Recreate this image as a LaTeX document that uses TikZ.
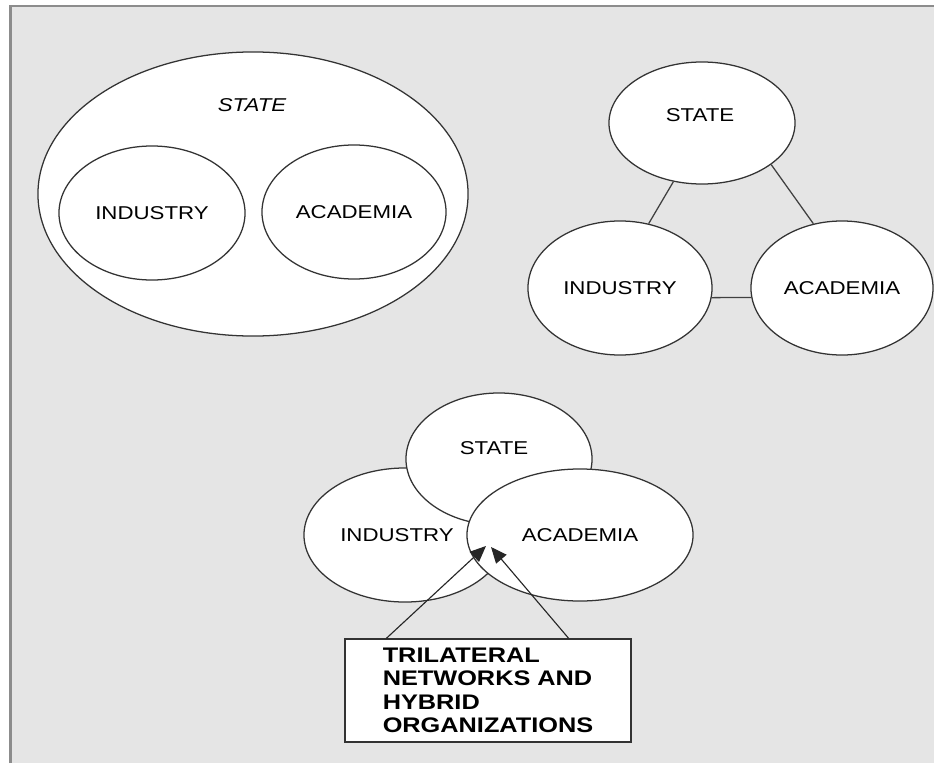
\documentclass[tikz,border=0pt]{standalone}
\usepackage{fontspec}
\setmainfont{Liberation Sans}[FakeStretch=1.2]
\usetikzlibrary{shapes.geometric,arrows.meta,positioning}

\begin{document}
\begin{tikzpicture}
  [x=0.025cm,y=-0.025cm,
   sphere/.style={ellipse,draw=black!80,line width=0.9pt,fill=white,inner sep=0pt,
     font=\fontsize{13.2}{15}\selectfont},
   txt/.style={inner sep=0pt,font=\fontsize{13.2}{15}\selectfont},
   link/.style={draw=black!75,line width=0.9pt},
   arr/.style={-{Triangle[length=4mm,width=3.4mm]},draw=black!85,line width=0.8pt}]
  \useasboundingbox (0,0) rectangle (934,763);
  \fill[black!10] (10,6) rectangle (934,763);
  \draw[black!45,line width=2.5pt] (10.5,763) -- (10.5,5);
  \draw[black!45,line width=1.5pt] (9.5,6) -- (934,6);

  % statist model
  \node[sphere,minimum width=10.75cm,minimum height=7.1cm] (st1) at (253,194) {};
  \node[txt] (st1t) at (252,105) {\itshape STATE};
  \node[sphere,minimum width=4.65cm,minimum height=3.35cm] (ind1) at (152,213) {INDUSTRY};
  \node[sphere,minimum width=4.6cm,minimum height=3.35cm] (aca1) at (354,212) {ACADEMIA};

  % laissez-faire model
  \node[sphere,minimum width=4.65cm,minimum height=3.05cm] (st2) at (702,123) {};
  \node[txt] (st2t) at (700,115) {STATE};
  \node[sphere,minimum width=4.6cm,minimum height=3.35cm] (ind2) at (620,288) {INDUSTRY};
  \node[sphere,minimum width=4.55cm,minimum height=3.35cm] (aca2) at (842,288) {ACADEMIA};

  \draw[link] (st2.-116) -- (ind2.66);
  \draw[link] (st2.-31) -- (aca2.114);
  \draw[link] (ind2.-6) -- (aca2.186);

  % triple helix model
  \node[sphere,minimum width=5.05cm,minimum height=3.35cm] (ind3) at (405,535) {};
  \node[sphere,minimum width=4.65cm,minimum height=3.3cm] (st3) at (499,459) {};
  \node[sphere,minimum width=5.65cm,minimum height=3.3cm] (aca3) at (580,535) {ACADEMIA};
  \node[txt] (st3t) at (494,448) {STATE};
  \node[txt] (ind3t) at (397,535) {INDUSTRY};

  \node[draw=black!80,line width=0.9pt,fill=white,minimum width=7.15cm,minimum height=2.575cm,
    align=left,font=\bfseries\fontsize{15}{16.6}\selectfont] (org) at (488,690.5)
    {TRILATERAL\\NETWORKS AND\\HYBRID\\ORGANIZATIONS};
  \coordinate (tipL) at (486,546);
  \coordinate (tipR) at (491,547);

  \draw[arr] ([xshift=1.05cm]org.north west) -- (tipL);
  \draw[arr] ([xshift=-1.575cm]org.north east) -- (tipR);
\end{tikzpicture}
\end{document}
